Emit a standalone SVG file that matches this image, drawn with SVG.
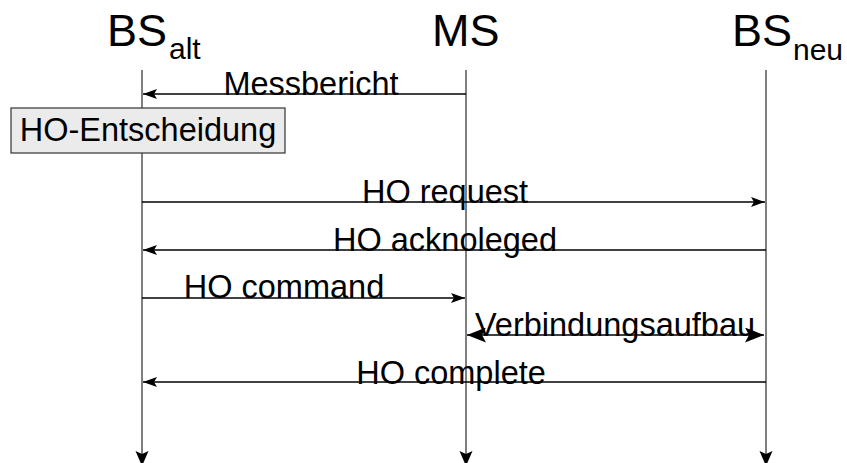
<svg xmlns="http://www.w3.org/2000/svg" width="847" height="463" viewBox="0 0 847 463">
<defs>
<marker id="ah" markerWidth="14" markerHeight="10" refX="14" refY="5" orient="auto" markerUnits="userSpaceOnUse"><path d="M0,0 L14,5 L0,10 L3,5 Z" fill="#000"/></marker>
<marker id="big" markerWidth="19" markerHeight="15" refX="19" refY="7.5" orient="auto" markerUnits="userSpaceOnUse"><path d="M0,0 L19,7.5 L0,15 L4,7.5 Z" fill="#000"/></marker>
<marker id="bigs" markerWidth="19" markerHeight="15" refX="0" refY="7.5" orient="auto" markerUnits="userSpaceOnUse"><path d="M19,0 L0,7.5 L19,15 L15,7.5 Z" fill="#000"/></marker>
<path id="downhead" d="M-6.5,0 L0,15 L6.5,0 L0,3 Z" fill="#000"/>
</defs>
<style>
text{font-family:"Liberation Sans",Arial,sans-serif;fill:#000}
.t{font-size:45px}
.sub{font-size:30px}
.lbl{font-size:32.5px;text-anchor:middle}
.life{stroke:#555;stroke-width:1.5;fill:none}
.msg{stroke:#000;stroke-width:1.3;fill:none}
</style>
<g id="BS_alt">
<text class="t" x="107" y="46">BS</text><text class="sub" x="169" y="59">alt</text>
<line class="life" x1="142" y1="70" x2="142" y2="456"/>
<use href="#downhead" x="142" y="451"/>
</g>
<g id="MS">
<text class="t" x="432" y="46">MS</text>
<line class="life" x1="466" y1="70" x2="466" y2="456"/>
<use href="#downhead" x="466" y="451"/>
</g>
<g id="BS_neu">
<text class="t" x="732" y="46">BS</text><text class="sub" x="793" y="60">neu</text>
<line class="life" x1="766" y1="70" x2="766" y2="456"/>
<use href="#downhead" x="766" y="451"/>
</g>
<g id="HO-Entscheidung">
<rect x="11" y="108" width="274" height="45" fill="#ebebeb" stroke="#333" stroke-width="1.2"/>
<text class="lbl" x="148" y="141">HO-Entscheidung</text>
</g>
<g id="connectors">
<line class="msg" x1="466" y1="94" x2="143" y2="94" marker-end="url(#ah)"/>
<text class="lbl" x="311" y="95">Messbericht</text>
<line class="msg" x1="142" y1="202" x2="765" y2="202" marker-end="url(#ah)"/>
<text class="lbl" x="445" y="203">HO request</text>
<line class="msg" x1="766" y1="250" x2="143" y2="250" marker-end="url(#ah)"/>
<text class="lbl" x="445" y="251">HO acknoleged</text>
<line class="msg" x1="142" y1="298" x2="465" y2="298" marker-end="url(#ah)"/>
<text class="lbl" x="284" y="298">HO command</text>
<line class="msg" x1="467" y1="335" x2="764" y2="335" marker-start="url(#bigs)" marker-end="url(#big)" stroke-width="2"/>
<text class="lbl" x="615" y="336">Verbindungsaufbau</text>
<line class="msg" x1="766" y1="382" x2="143" y2="382" marker-end="url(#ah)"/>
<text class="lbl" x="451" y="384">HO complete</text>
</g>
</svg>
